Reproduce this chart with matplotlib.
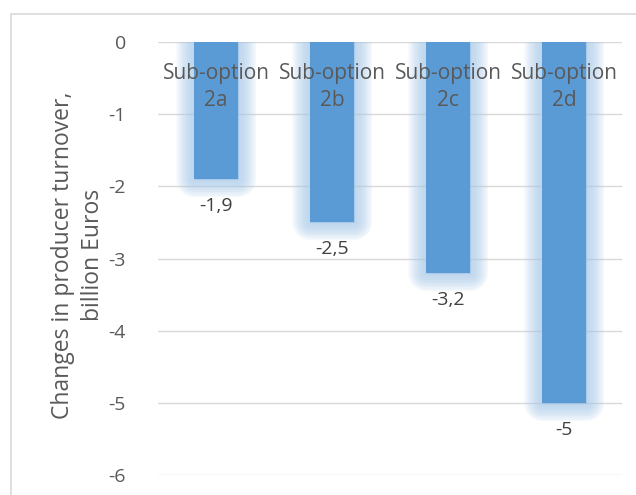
import matplotlib
matplotlib.use("Agg")
import matplotlib.pyplot as plt
import matplotlib.patheffects as pe
from matplotlib.patches import Rectangle

categories = ["Sub-option\n2a", "Sub-option\n2b", "Sub-option\n2c", "Sub-option\n2d"]
values = [-1.9, -2.5, -3.2, -5.0]
value_labels = ["-1,9", "-2,5", "-3,2", "-5"]
yticks = [0, -1, -2, -3, -4, -5, -6]

plt.rcParams['font.family'] = ['Open Sans', 'DejaVu Sans']
W, H = 636, 495
fig = plt.figure(figsize=(W/100, H/100), dpi=100)
fig.patch.set_facecolor('white')

# outer chart border
fig.add_artist(Rectangle((11/W, -0.1), 1.0, 1 - 14/H + 0.1, transform=fig.transFigure,
                         fill=False, edgecolor='#d9d9d9', linewidth=1.2))

ax = fig.add_axes([158/W, 1 - 475/H, (622-158)/W, (475-42)/H])
ax.set_ylim(-6, 0)
ax.set_xlim(-0.5, 3.5)
for s in ax.spines.values():
    s.set_visible(False)
ax.set_yticks(yticks)
ax.set_yticklabels([str(t) for t in yticks])
ax.tick_params(axis='y', length=0, pad=23, labelsize=14, labelcolor='#595959')
ax.set_xticks([])
ax.grid(axis='y', color='#d9d9d9', linewidth=1)
ax.set_axisbelow(True)

x = list(range(len(categories)))
glow = [pe.Stroke(linewidth=lw, foreground='#a9cbea', alpha=0.09, joinstyle='round')
        for lw in range(26, 1, -2)]
bars = ax.bar(x, values, width=0.38, color='#5b9bd5', zorder=2)
for b in bars:
    b.set_path_effects(glow + [pe.Normal()])

for xi, cat in zip(x, categories):
    ax.text(xi, -0.62, cat, ha='center', va='center', fontsize=15, color='#595959',
            linespacing=1.35, zorder=4)
for xi, v, lab in zip(x, values, value_labels):
    ax.text(xi, v - 0.37, lab, ha='center', va='center', fontsize=14, color='#404040', zorder=4)

fig.text(78/W, 1 - 255/H, "Changes in producer turnover,\nbillion Euros", rotation=90,
         ha='center', va='center', fontsize=16.5, color='#595959', linespacing=1.3)

fig.savefig("out.png", dpi=100)
